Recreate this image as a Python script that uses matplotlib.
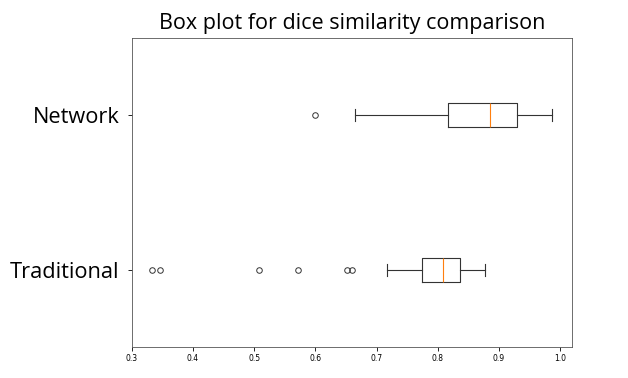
import matplotlib.pyplot as plt

labels = ['Traditional', 'Network']
# box stats
low_whisker = [0.717, 0.665]
q1 = [0.775, 0.817]
median = [0.809, 0.886]
q3 = [0.837, 0.930]
high_whisker = [0.878, 0.987]
fliers = [[0.333, 0.346, 0.508, 0.572, 0.652, 0.660], [0.600]]

stats = []
for i in range(len(labels)):
    stats.append({'label': labels[i], 'whislo': low_whisker[i], 'q1': q1[i],
                  'med': median[i], 'q3': q3[i], 'whishi': high_whisker[i],
                  'fliers': fliers[i]})

fig = plt.figure(figsize=(6.28, 3.78), dpi=100)
ax = fig.add_axes([0.210, 0.082, 0.701, 0.817])
lw = 0.8
ax.bxp(stats, vert=False, widths=0.155,
       boxprops=dict(linewidth=lw, color='#333333'),
       whiskerprops=dict(linewidth=lw, color='#333333'),
       capprops=dict(linewidth=lw, color='#333333'),
       medianprops=dict(linewidth=lw, color='#ff7f0e'),
       flierprops=dict(markersize=4, markeredgewidth=0.7, markeredgecolor='#333333'))

ax.set_xlim(0.3, 1.0197)
ax.set_ylim(0.5, 2.5)
ax.tick_params(axis='x', labelsize=5.5, length=3, width=0.6, pad=2)
ax.tick_params(axis='y', length=3, width=0.6, pad=6)
ax.set_yticklabels(labels, fontsize=15.7, family='Open Sans')
for s in ax.spines.values():
    s.set_linewidth(0.6)
    s.set_color('#555555')

fig.suptitle('Box plot for dice similarity comparison', fontsize=15.5,
             family='Open Sans', x=0.561, y=0.965)

fig.savefig('out.png')
